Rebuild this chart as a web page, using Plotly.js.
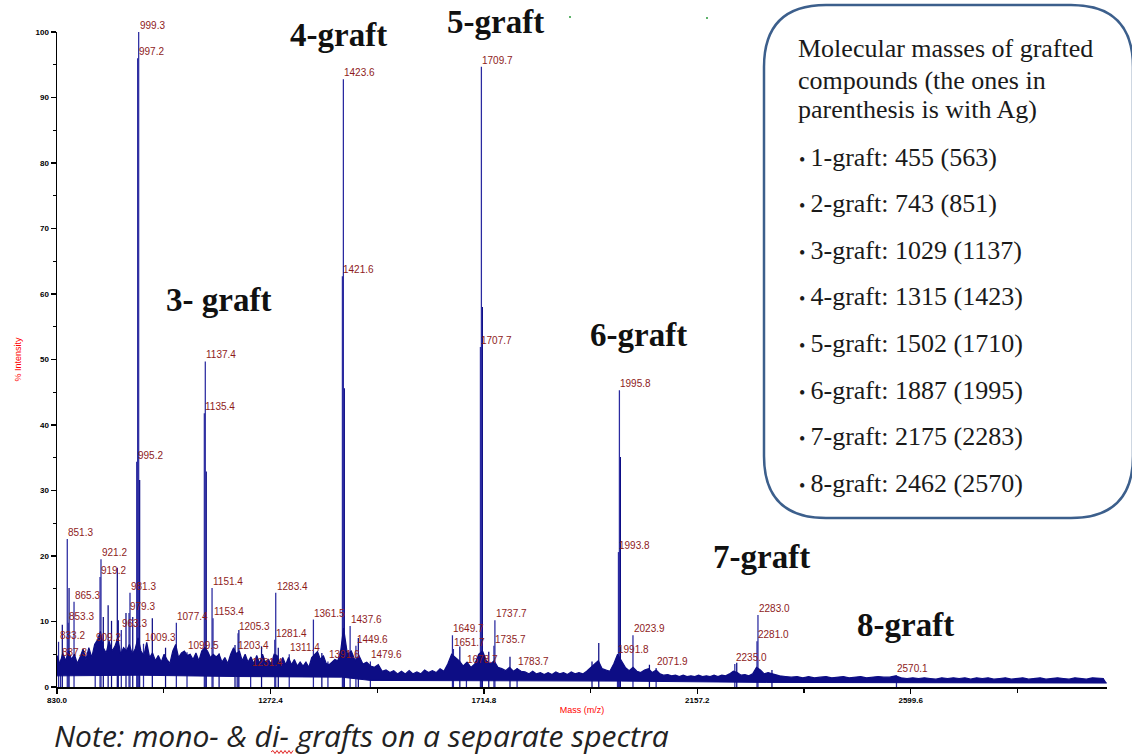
<!DOCTYPE html>
<html>
<head>
<meta charset="utf-8">
<script src="https://cdn.plot.ly/plotly-3.0.1.min.js"></script>
<style>
  html, body { margin: 0; padding: 0; background: #fff; }
  #chart { width: 1132px; height: 755px; }
</style>
</head>
<body>
<div id="chart"></div>
<script>
// ---- Spectrum data (m/z vs % intensity) ----

// Peaks that carry a printed m/z label
const labelMz  = [833.2, 837.3, 851.3, 853.3, 865.3, 909.2, 919.2, 921.2, 963.3, 979.3,
                  981.3, 995.2, 997.2, 999.3, 1009.3, 1077.4, 1099.5, 1135.4, 1137.4, 1151.4,
                  1153.4, 1203.4, 1205.3, 1231.4, 1281.4, 1283.4, 1311.4, 1361.5, 1391.6, 1421.6,
                  1423.6, 1437.6, 1449.6, 1479.6, 1649.7, 1651.7, 1678.7, 1707.7, 1709.7, 1735.7,
                  1737.7, 1783.7, 1991.8, 1993.8, 1995.8, 2023.9, 2071.9, 2235.0, 2281.0, 2283.0,
                  2570.1];
const labelInt = [6.9, 4.2, 22.6, 9.8, 13.0, 6.6, 16.8, 19.5, 8.7, 11.3,
                  14.4, 34.4, 96.0, 100.0, 6.6, 9.8, 5.3, 41.8, 49.7, 15.1,
                  10.5, 5.3, 8.2, 2.7, 7.2, 14.4, 5.0, 10.3, 3.9, 62.7,
                  92.8, 9.3, 6.3, 3.9, 7.9, 5.8, 3.2, 51.9, 94.7, 6.3,
                  10.2, 2.9, 4.7, 20.6, 45.3, 7.9, 2.9, 3.5, 7.0, 11.0,
                  1.8];

// Other spikes without labels
const peakMz  = [841, 855, 926, 936, 943, 955, 957, 973, 987, 1001.3,
                 1027.6, 1055, 1139.4, 1166, 1199, 1207, 1254, 1288.7, 1379, 1425.6,
                 1454.6, 1665, 1711.7, 1725, 1769, 1939, 1953, 1997.8, 2058, 2239,
                 2312];
const peakInt = [9.5, 15.1, 10.7, 12.5, 10.1, 18.2, 10.2, 11.3, 10.7, 31.6,
                 10.5, 6.0, 32.9, 5.1, 6.4, 8.7, 6.2, 6.0, 5.2, 45.6,
                 7.5, 6.2, 58.0, 5.4, 4.6, 3.9, 6.7, 35.1, 3.4, 3.7,
                 2.6];

// Upper edge of the dense noise band
const noiseMz = [830,836,842,848,854,860,866,872,878,884,890,896,902,908,914,920,926,932,938,944,
  950,956,962,968,974,980,986,992,998,1004,1010,1016,1022,1028,1034,1040,1046,1052,1058,1064,
  1070,1076,1082,1088,1094,1100,1106,1112,1118,1124,1130,1136,1142,1148,1154,1160,1166,1172,1178,1184,
  1190,1196,1202,1208,1214,1220,1226,1232,1238,1244,1250,1256,1262,1268,1274,1280,1286,1292,1298,1304,
  1310,1316,1322,1328,1334,1340,1346,1352,1358,1364,1370,1376,1382,1388,1394,1400,1406,1412,1418,
  1424,1432,1440,1448,1456,1464,1472,1480,1488,1496,1504,1512,1520,1528,1536,1544,1552,1560,1568,1576,
  1584,1592,1600,1608,1616,1624,1632,1640,1648,1656,1664,1672,1680,1688,1696,1704,1712,1720,1728,1736,
  1744,1752,1760,1768,1776,1784,1792,1800,1808,1816,1824,1832,1840,1848,1856,1864,1872,1880,1888,1896,
  1904,1912,1920,1928,1936,1944,1952,1960,1968,1976,1984,1992,2000,2008,2016,2024,2032,2040,2048,2056,
  2064,2072,2080,2088,2096,2104,2112,2120,2128,2136,2144,2152,2160,2168,2176,2184,2192,2200,2208,2216,
  2224,2232,2240,2248,2256,2264,2272,2280,2288,2296,2304,2312,2320,2328,
  2340,2352,2364,2376,2388,2400,2412,2424,2436,2448,2460,2472,2484,2496,2508,2520,2532,2544,2556,2568,
  2580,2592,2604,2616,2628,2640,2652,2664,2676,2688,2700,2712,2724,2736,2748,2760,2772,2784,2796,2808,
  2820,2832,2844,2856,2868,2880,2892,2904,2916,2928,2940,2952,2964,2976,2988,3000];
const noiseTop = [4.8,3.5,5.2,4.0,5.5,4.2,5.0,3.6,4.6,5.8,4.2,6.0,4.5,6.5,7.2,8.5,6.0,5.2,7.0,5.5,
  6.2,7.5,5.0,6.0,5.5,6.5,5.0,5.8,7.5,5.5,4.8,6.8,4.5,5.2,4.0,4.8,3.8,5.0,4.2,3.6,
  5.5,6.5,4.5,5.2,5.5,4.8,5.0,4.2,5.2,4.0,5.5,6.0,5.5,4.5,5.0,4.6,5.0,3.8,4.5,3.6,
  5.0,6.0,5.0,5.5,4.0,5.0,3.8,4.6,3.6,4.8,3.6,5.0,3.8,4.2,3.5,5.0,4.8,3.6,4.5,3.4,
  4.5,3.4,4.2,3.2,3.8,3.2,3.8,3.0,4.5,5.0,5.4,4.2,4.8,3.6,3.4,3.8,4.2,4.0,5.5,
  9.0,5.0,5.5,4.0,4.8,3.5,3.8,3.2,3.0,3.4,2.4,2.6,2.2,2.5,2.0,2.4,2.0,2.5,2.0,2.3,
  2.0,2.6,2.2,2.5,2.2,2.8,2.4,3.5,5.0,4.5,4.0,3.2,3.8,3.0,3.5,5.0,5.5,4.0,3.5,4.0,
  3.0,2.8,2.5,3.0,2.4,2.8,2.4,2.3,2.0,2.4,2.0,2.2,1.9,2.2,1.9,2.3,2.0,2.2,1.9,2.3,
  2.0,2.2,2.0,2.4,3.0,3.5,4.0,2.8,2.6,2.4,3.5,5.0,4.0,3.0,2.5,3.0,2.4,2.2,2.6,2.8,
  2.2,2.6,2.0,1.8,1.9,1.7,1.8,1.6,1.8,1.6,1.7,1.6,1.8,1.6,1.7,1.6,1.8,1.6,1.8,1.7,
  2.0,2.4,2.2,1.8,1.9,1.7,2.0,3.0,2.6,2.0,2.2,2.0,1.8,1.7,
  1.6,1.5,1.6,1.4,1.6,1.4,1.5,1.6,1.4,1.5,1.6,1.4,1.5,1.6,1.4,1.5,1.6,1.5,1.5,1.7,
  1.4,1.3,1.4,1.3,1.4,1.3,1.2,1.4,1.3,1.4,1.3,1.4,1.2,1.4,1.3,1.4,1.2,1.3,1.4,1.2,
  1.3,1.4,1.2,1.3,1.4,1.2,1.3,1.4,1.3,1.2,1.4,1.3,1.2,1.4,1.3,1.3];

// Lower edge of the noise band
const baseMz  = [830, 1000, 1200, 1420, 1480, 1700, 2000, 2300, 3006];
const baseInt = [1.7, 1.8, 1.6, 1.5, 1.0, 1.0, 0.9, 0.7, 0.6];

// Series annotations
const graftNames = ['3- graft', '4-graft', '5-graft', '6-graft', '7-graft', '8-graft'];
const boxHeader  = ['Molecular masses of grafted', 'compounds (the ones in', 'parenthesis is with Ag)'];
const boxItems   = ['1-graft: 455 (563)', '2-graft: 743 (851)', '3-graft: 1029 (1137)', '4-graft: 1315 (1423)',
                    '5-graft: 1502 (1710)', '6-graft: 1887 (1995)', '7-graft: 2175 (2283)', '8-graft: 2462 (2570)'];
const noteText   = 'Note: mono- & di- grafts on a separate spectra';

// ---- Layout geometry (pixels of the 1132x755 page) ----
const W = 1132, H = 755;
const PL = 57, PR = 1107, PT = 32, PB = 687;
const fx = x => (x - PL) / (PR - PL);
const fy = y => (PB - y) / (PB - PT);

const NAVY = '#0d0d85';
const LABEL_RED = '#8e1b1b';

const traces = [
  { type: 'scatter', mode: 'lines', x: baseMz, y: baseInt,
    line: { color: NAVY, width: 1 }, hoverinfo: 'skip', showlegend: false },
  { type: 'scatter', mode: 'lines', x: noiseMz, y: noiseTop, fill: 'tonexty',
    fillcolor: NAVY, line: { color: NAVY, width: 1.2 }, hoverinfo: 'skip', showlegend: false },
  { type: 'bar', x: peakMz, y: peakInt, width: 2.6,
    marker: { color: NAVY, line: { width: 0 } }, showlegend: false },
  { type: 'bar', x: labelMz, y: labelInt, width: 2.6,
    marker: { color: '#2a2aa0', line: { width: 0 } }, showlegend: false }
];

const annotations = [];

// m/z labels over the peaks
labelMz.forEach((m, i) => {
  annotations.push({
    x: m, y: labelInt[i], xref: 'x', yref: 'y',
    text: m.toFixed(1), showarrow: false,
    xanchor: 'left', yanchor: 'bottom', xshift: -1, yshift: -1,
    font: { family: 'Liberation Sans, Arial, sans-serif', size: 10, color: LABEL_RED }
  });
});

// Oligomer group captions
const graftPos = [[218, 300], [338, 35], [495, 22], [638, 335], [761, 557], [905, 625]];
graftNames.forEach((t, i) => {
  annotations.push({
    x: fx(graftPos[i][0]), y: fy(graftPos[i][1]), xref: 'paper', yref: 'paper',
    text: t, showarrow: false, xanchor: 'center', yanchor: 'middle',
    font: { family: 'Liberation Serif, Times New Roman, serif', size: 33, weight: 'bold', color: '#111' }
  });
});

// Text inside the rounded box
const BOX_FONT = { family: 'Liberation Serif, Times New Roman, serif', size: 26, color: '#1a1a1a' };
const headerY = [48, 80, 110];
boxHeader.forEach((t, i) => {
  annotations.push({
    x: fx(796), y: fy(headerY[i]), xref: 'paper', yref: 'paper', text: t, showarrow: false,
    xanchor: 'left', yanchor: 'middle', font: BOX_FONT
  });
});
const itemY0 = 157, itemStep = 46.6;
boxItems.forEach((t, i) => {
  annotations.push({
    x: fx(797), y: fy(itemY0 + i * itemStep), xref: 'paper', yref: 'paper',
    text: '<span style="font-size:18px">\u2022</span>\u2009' + t, showarrow: false,
    xanchor: 'left', yanchor: 'middle', font: BOX_FONT
  });
});

// Footnote
annotations.push({
  x: fx(53), y: fy(735.5), xref: 'paper', yref: 'paper', text: '<i>' + noteText.replace('&', '&amp;') + '</i>',
  showarrow: false, xanchor: 'left', yanchor: 'middle', borderpad: 0,
  font: { family: 'Open Sans, Noto Sans, sans-serif', size: 30, color: '#222' }
});

// Rounded box outline (pixel path converted to paper units)
function roundedBox(x0, y0, x1, y1, r) {
  const P = (x, y) => fx(x) + ',' + fy(y);
  return 'M' + P(x0 + r, y0) + ' L' + P(x1 - r, y0) + ' Q' + P(x1, y0) + ' ' + P(x1, y0 + r) +
         ' L' + P(x1, y1 - r) + ' Q' + P(x1, y1) + ' ' + P(x1 - r, y1) +
         ' L' + P(x0 + r, y1) + ' Q' + P(x0, y1) + ' ' + P(x0, y1 - r) +
         ' L' + P(x0, y0 + r) + ' Q' + P(x0, y0) + ' ' + P(x0 + r, y0) + ' Z';
}
// Wavy spell-check underline
function wavy(x0, x1, y, amp, step) {
  let d = 'M' + fx(x0) + ',' + fy(y);
  let up = true;
  for (let x = x0 + step; x <= x1 + 0.01; x += step) {
    d += ' L' + fx(x) + ',' + fy(y + (up ? -amp : amp));
    up = !up;
  }
  return d;
}

const shapes = [
  { type: 'path', xref: 'paper', yref: 'paper', path: roundedBox(764, 5, 1133, 518, 62),
    line: { color: '#3c5f8c', width: 2.5 }, fillcolor: 'rgba(255,255,255,1)', layer: 'above' },
  { type: 'path', xref: 'paper', yref: 'paper', path: wavy(271, 293, 752, 1.5, 2),
    line: { color: '#e02020', width: 1 } },
  { type: 'circle', xref: 'paper', yref: 'paper', x0: fx(569), x1: fx(571), y0: fy(16), y1: fy(18),
    fillcolor: '#2a9a3a', line: { width: 0 } },
  { type: 'circle', xref: 'paper', yref: 'paper', x0: fx(706), x1: fx(708), y0: fy(17), y1: fy(19),
    fillcolor: '#2a9a3a', line: { width: 0 } }
];

const layout = {
  width: W, height: H, autosize: false,
  margin: { l: PL, r: W - PR, t: PT, b: H - PB, pad: 0 },
  paper_bgcolor: '#fff', plot_bgcolor: '#fff',
  barmode: 'overlay', showlegend: false,
  xaxis: {
    range: [830, 3006.5], tickmode: 'linear', tick0: 830, dtick: 442.4, tickformat: '.1f',
    ticks: 'outside', ticklen: 5, tickwidth: 1.5, tickcolor: '#000',
    minor: { tick0: 830, dtick: 221.2, ticks: 'outside', ticklen: 4, tickwidth: 1.2, tickcolor: '#000' },
    showline: true, linecolor: '#000', linewidth: 1.5, showgrid: false, zeroline: false,
    tickfont: { family: 'Liberation Sans, Arial, sans-serif', size: 8, weight: 'bold', color: '#000' },
    title: { text: 'Mass (m/z)', font: { family: 'Liberation Sans, Arial, sans-serif', size: 9, color: '#ff0000' }, standoff: 2 },
    fixedrange: true
  },
  yaxis: {
    range: [0, 100], tickmode: 'linear', tick0: 0, dtick: 10,
    ticks: 'outside', ticklen: 5, tickwidth: 1.5, tickcolor: '#000',
    minor: { dtick: 5, ticks: 'outside', ticklen: 3, tickwidth: 1.2, tickcolor: '#000' },
    showline: true, linecolor: '#000', linewidth: 1.5, showgrid: false, zeroline: false,
    tickfont: { family: 'Liberation Sans, Arial, sans-serif', size: 8, weight: 'bold', color: '#000' },
    title: { text: '% Intensity', font: { family: 'Liberation Sans, Arial, sans-serif', size: 9, color: '#ff0000' }, standoff: 12 },
    fixedrange: true
  },
  annotations: annotations,
  shapes: shapes
};

Plotly.newPlot('chart', traces, layout, { displayModeBar: false, staticPlot: true });
</script>
</body>
</html>
